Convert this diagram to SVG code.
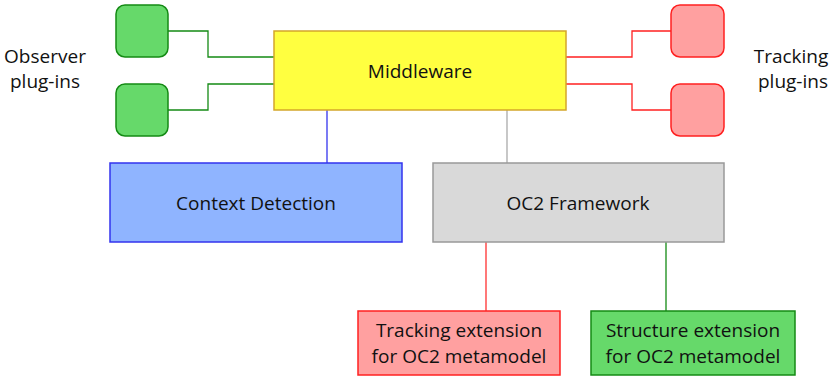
<svg xmlns="http://www.w3.org/2000/svg" width="840" height="378" viewBox="0 0 840 378">
<style>
text{font-family:"Open Sans","Liberation Sans",sans-serif;font-size:19px;fill:#111;text-anchor:middle}
.g{fill:#66d96a;stroke:#148a14;stroke-width:1.5}
.r{fill:#ffa0a0;stroke:#ff2020;stroke-width:1.5}
.c{fill:none;stroke-width:1.3}
</style>
<rect width="840" height="378" fill="#fff"/>
<g id="connectors">
<polyline class="c" stroke="#148a14" points="168,31 208,31 208,57 274,57"/>
<polyline class="c" stroke="#148a14" points="168,110 208,110 208,84 274,84"/>
<polyline class="c" stroke="#ff2020" points="566,57 632,57 632,31 671,31"/>
<polyline class="c" stroke="#ff2020" points="566,84 632,84 632,110 671,110"/>
<line class="c" stroke="#3333ee" x1="327" y1="110" x2="327" y2="163"/>
<line class="c" stroke="#aaaaaa" x1="507" y1="110" x2="507" y2="163"/>
<line class="c" stroke="#ff3030" x1="486" y1="242" x2="486" y2="311"/>
<line class="c" stroke="#148a14" x1="666" y1="242" x2="666" y2="311"/>
</g>
<g id="obs1"><rect class="g" x="116" y="5" width="52" height="52" rx="9"/></g>
<g id="obs2"><rect class="g" x="116" y="84" width="52" height="52" rx="9"/></g>
<g id="trk1"><rect class="r" x="671" y="5" width="53" height="52" rx="9"/></g>
<g id="trk2"><rect class="r" x="671" y="84" width="53" height="52" rx="9"/></g>
<g id="obs-label"><text x="45" y="63">Observer</text><text x="45" y="88">plug-ins</text></g>
<g id="trk-label"><text x="791" y="63">Tracking</text><text x="793" y="88">plug-ins</text></g>
<g id="middleware"><rect x="274" y="31" width="292" height="79" fill="#ffff40" stroke="#d4a62a" stroke-width="1.5"/><text x="420" y="78">Middleware</text></g>
<g id="context"><rect x="110" y="163" width="292" height="79" fill="#8fb4ff" stroke="#3333ee" stroke-width="1.5"/><text x="256" y="210">Context Detection</text></g>
<g id="oc2"><rect x="433" y="163" width="291" height="79" fill="#d9d9d9" stroke="#999" stroke-width="1.5"/><text x="578" y="210">OC2 Framework</text></g>
<g id="trackext"><rect class="r" x="358" y="311" width="202" height="64"/><text x="459" y="337">Tracking extension</text><text x="459" y="363">for OC2 metamodel</text></g>
<g id="structext"><rect class="g" x="591" y="311" width="204" height="64"/><text x="693" y="337">Structure extension</text><text x="693" y="363">for OC2 metamodel</text></g>
</svg>
